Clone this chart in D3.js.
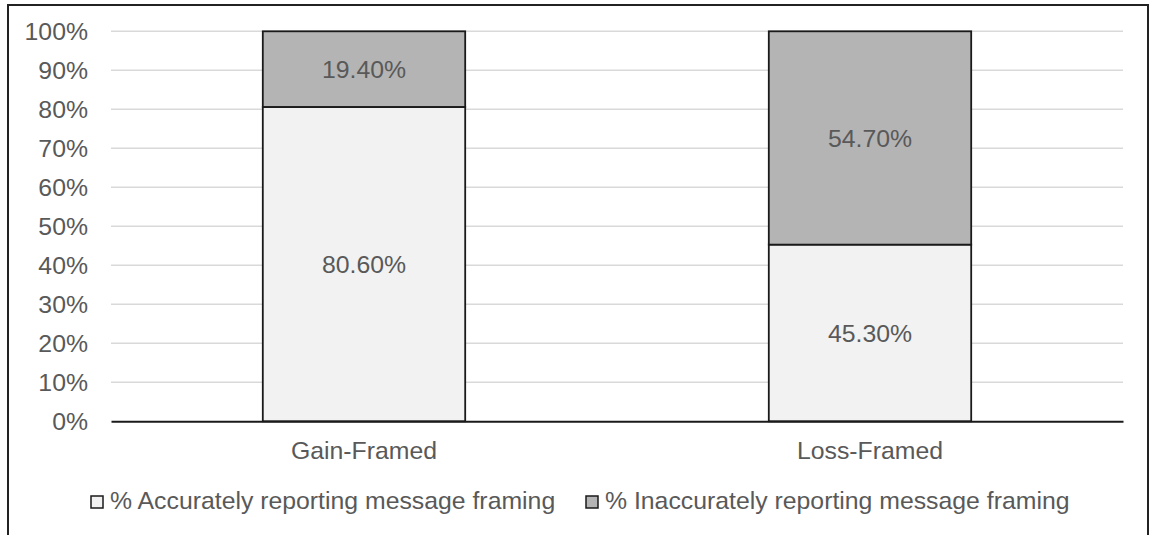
<!DOCTYPE html>
<html>
<head>
<meta charset="utf-8">
<script src="https://cdn.jsdelivr.net/npm/d3@7"></script>
<style>
  body { margin: 0; background: #fff; }
  svg text { font-family: "Liberation Sans", Arial, sans-serif; fill: #595959; }
</style>
</head>
<body>
<svg id="canvas"></svg>
<script>
const width = 1149;
const height = 535;
const categories = ['Gain-Framed', 'Loss-Framed'];
const accurate = [80.6, 45.3];
const inaccurate = [19.4, 54.7];
const seriesNames = ['% Accurately reporting message framing', '% Inaccurately reporting message framing'];
const yTicks = [0, 10, 20, 30, 40, 50, 60, 70, 80, 90, 100];
const colors = ['#f2f2f2', '#b4b4b4'];

const plotLeft = 111;
const plotRight = 1123;
const plotTop = 31.3;
const plotBottom = 421.3;
const fontSize = '24.8px';

const canvas = d3.select('#canvas')
  .attr('width', width)
  .attr('height', height);

// outer frame (bottom edge falls off the picture)
canvas.append('rect')
  .attr('x', 8).attr('y', 5)
  .attr('width', 1140).attr('height', 560)
  .attr('fill', '#fff')
  .attr('stroke', '#222')
  .attr('stroke-width', 2);

const xScale = d3.scaleBand().domain(categories).range([plotLeft, plotRight]);
const yScale = d3.scaleLinear().domain([0, 100]).range([plotBottom, plotTop]);
const barWidth = xScale.bandwidth() * 0.4;

// gridlines
canvas.append('g')
  .selectAll('line')
  .data(yTicks.filter((d) => d > 0))
  .enter()
  .append('line')
  .attr('x1', plotLeft)
  .attr('x2', plotRight)
  .attr('y1', (d) => yScale(d))
  .attr('y2', (d) => yScale(d))
  .attr('stroke', '#d9d9d9')
  .attr('stroke-width', 1.5);

// y axis labels
const yAxis = d3.axisLeft(yScale)
  .tickValues(yTicks)
  .tickFormat((d) => `${d}%`)
  .tickSize(0)
  .tickPadding(0);

const yg = canvas.append('g')
  .attr('transform', `translate(${plotLeft - 23}, 0)`)
  .call(yAxis);
yg.select('.domain').remove();
yg.selectAll('text')
  .style('font-size', fontSize)
  .style('font-family', '"Liberation Sans", Arial, sans-serif')
  .attr('fill', '#595959');

// stacked bars
const stack = categories.map((c, i) => [
  { cat: c, y0: 0, y1: accurate[i], v: accurate[i], s: 0 },
  { cat: c, y0: accurate[i], y1: accurate[i] + inaccurate[i], v: inaccurate[i], s: 1 },
]).flat();

canvas.append('g')
  .selectAll('rect')
  .data(stack)
  .enter()
  .append('rect')
  .attr('x', (d) => xScale(d.cat) + (xScale.bandwidth() - barWidth) / 2)
  .attr('y', (d) => yScale(d.y1))
  .attr('width', barWidth)
  .attr('height', (d) => yScale(d.y0) - yScale(d.y1))
  .attr('fill', (d) => colors[d.s])
  .attr('stroke', '#1a1a1a')
  .attr('stroke-width', 1.8);

canvas.append('g')
  .selectAll('text')
  .data(stack)
  .enter()
  .append('text')
  .attr('x', (d) => xScale(d.cat) + xScale.bandwidth() / 2)
  .attr('y', (d) => (yScale(d.y0) + yScale(d.y1)) / 2)
  .attr('dy', '0.35em')
  .attr('text-anchor', 'middle')
  .style('font-size', fontSize)
  .text((d) => `${d.v.toFixed(2)}%`);

// x axis
const xAxis = d3.axisBottom(xScale).tickSize(0).tickPadding(0);
const xg = canvas.append('g')
  .attr('transform', `translate(0, ${plotBottom})`)
  .call(xAxis);
xg.select('.domain')
  .attr('stroke', '#1a1a1a')
  .attr('stroke-width', 2);
xg.selectAll('text')
  .attr('dy', null)
  .attr('y', 38)
  .style('font-size', fontSize)
  .style('font-family', '"Liberation Sans", Arial, sans-serif')
  .attr('fill', '#595959');

// legend
const legendX = [91, 586];
const legend = canvas.append('g')
  .selectAll('g')
  .data(seriesNames)
  .enter()
  .append('g')
  .attr('transform', (d, i) => `translate(${legendX[i]}, 496)`);

legend.append('rect')
  .attr('width', 12)
  .attr('height', 12)
  .attr('fill', (d, i) => colors[i])
  .attr('stroke', '#1a1a1a')
  .attr('stroke-width', 1.5);

legend.append('text')
  .attr('x', 19)
  .attr('y', 13)
  .style('font-size', fontSize)
  .text((d) => d);
</script>
</body>
</html>
